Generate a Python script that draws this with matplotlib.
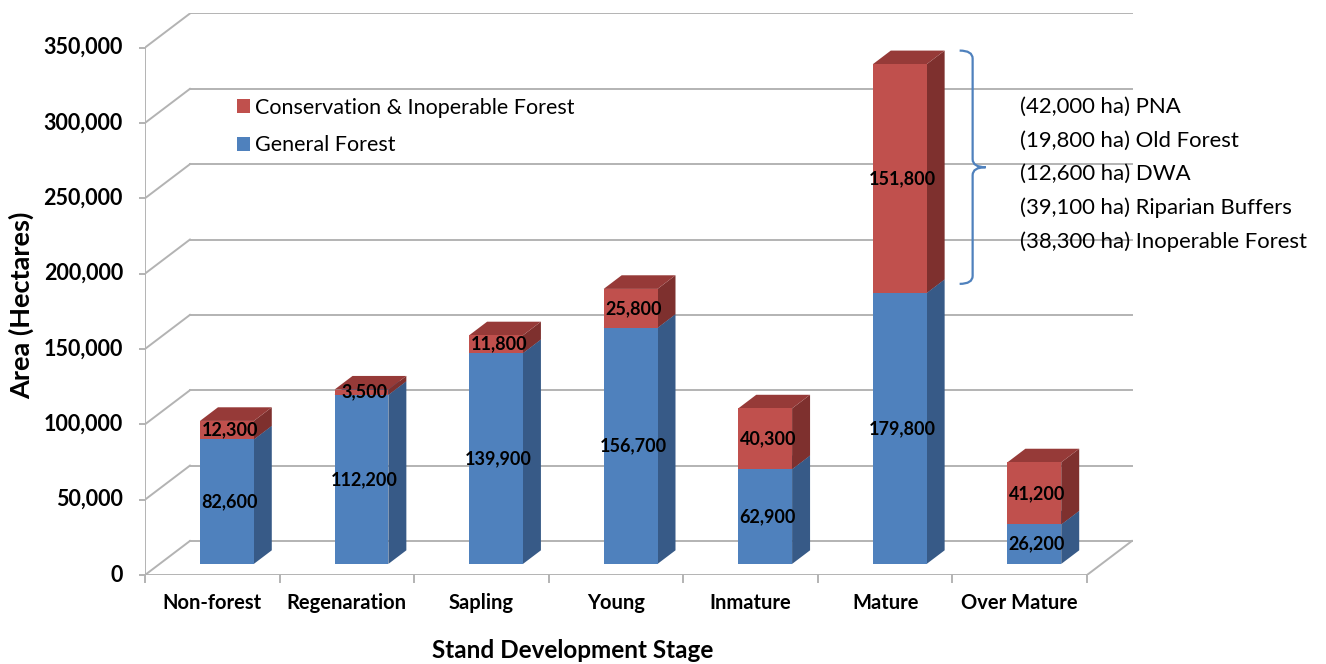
import matplotlib.pyplot as plt
from matplotlib.patches import Polygon, Patch
from matplotlib.path import Path
import matplotlib.patches as mpatches

plt.rcParams['font.family'] = ['Lato', 'DejaVu Sans']

# ─── Data (thousands of hectares) ───────────────────────────────────────────
stages = ["Non-forest", "Regenaration", "Sapling", "Young", "Inmature", "Mature", "Over Mature"]
general = [82.6, 112.2, 139.9, 156.7, 62.9, 179.8, 26.2]
conservation = [12.3, 3.5, 11.8, 25.8, 40.3, 151.8, 41.2]

breakdown = [
    "(42,000 ha) PNA",
    "(19,800 ha) Old Forest",
    "(12,600 ha) DWA",
    "(39,100 ha) Riparian Buffers",
    "(38,300 ha) Inoperable Forest",
]

yticks = list(range(0, 351, 50))

# ─── Style ──────────────────────────────────────────────────────────────────
BLUE = ("#4F81BD", "#375A87", "#3F6797")    # front, side, top
RED = ("#C0504D", "#7E302E", "#963A38")
GRID = "#B3B3B3"
BRACE = "#4F81BD"

W, H = 1326, 664
CAT_PX = 134.57          # pixels per category
PX_K = 1.507             # pixels per thousand ha
DX, DY = 0.334, 22.6     # depth of the floor in data units
F0, F1 = 0.325, 0.725    # front / back depth of the bars
BAR_W = 0.40

fig = plt.figure(figsize=(W / 100, H / 100), dpi=100, facecolor="white")
ax = fig.add_axes([145 / W, 89 / H, 988 / W, 562 / H])
ax.set_xlim(-0.5, -0.5 + 988 / CAT_PX)
ax.set_ylim(0, 562 / PX_K)
ax.axis("off")

n = len(stages)
x0, x1 = -0.5, n - 0.5

# walls and gridlines
for v in yticks:
    ax.plot([x0, x0 + DX], [v, v + DY], color=GRID, lw=1.4, zorder=1)
    ax.plot([x0 + DX, x1 + DX], [v + DY, v + DY], color=GRID, lw=1.4, zorder=1)
    ax.plot([x0 - 5 / CAT_PX, x0], [v, v], color=GRID, lw=1.4, zorder=1, clip_on=False)
    ax.text(x0 - 22 / CAT_PX, v, f"{v * 1000:,}", ha="right", va="center",
            fontsize=15.5, fontweight="bold", color="black")
ax.plot([x0, x0], [0, yticks[-1]], color=GRID, lw=1.4, zorder=1)
ax.plot([x0, x1], [0, 0], color=GRID, lw=1.4, zorder=1)
ax.plot([x1, x1 + DX], [0, DY], color=GRID, lw=1.4, zorder=1)
for k in range(n + 1):
    ax.plot([k - 0.5, k - 0.5], [0, -7 / PX_K], color=GRID, lw=1.4, clip_on=False)

for i, name in enumerate(stages):
    ax.text(i, -28 / PX_K, name, ha="center", va="center",
            fontsize=14.5, fontweight="bold")


def box(i, bottom, top, colors, z):
    front, side, lid = colors
    c = i + F0 * DX
    l, r = c - BAR_W / 2, c + BAR_W / 2
    b, t = bottom + F0 * DY, top + F0 * DY
    ddx, ddy = (F1 - F0) * DX, (F1 - F0) * DY
    ax.add_patch(Polygon([(r, b), (r + ddx, b + ddy), (r + ddx, t + ddy), (r, t)],
                         closed=True, facecolor=side, edgecolor="none", zorder=z))
    ax.add_patch(Polygon([(l, t), (r, t), (r + ddx, t + ddy), (l + ddx, t + ddy)],
                         closed=True, facecolor=lid, edgecolor="none", zorder=z))
    ax.add_patch(Polygon([(l, b), (r, b), (r, t), (l, t)],
                         closed=True, facecolor=front, edgecolor="none", zorder=z + 0.1))
    ax.text(c + 0.02, (b + t) / 2, f"{round((top - bottom) * 1000):,}", ha="center", va="center",
            fontsize=13, fontweight="bold", color="black", zorder=z + 0.5)


for i in range(n):
    box(i, 0, general[i], BLUE, 3)
    box(i, general[i], general[i] + conservation[i], RED, 4)

# brace next to the Mature bar
m = stages.index("Mature")
top = general[m] + conservation[m] + F1 * DY
bot = general[m] + F1 * DY - 3
mid = (top + bot) / 2
bx = m + F0 * DX + BAR_W / 2 + (F1 - F0) * DX + 15 / CAT_PX
bw = 13 / CAT_PX
ry = 8 / PX_K
verts = [
    (bx, top), (bx + bw, top), (bx + bw, top - ry),
    (bx + bw, mid + ry),
    (bx + bw, mid), (bx + 2 * bw, mid), (bx + 2 * bw, mid),
    (bx + bw, mid), (bx + bw, mid - ry),
    (bx + bw, bot + ry),
    (bx + bw, bot), (bx, bot),
]
codes = [Path.MOVETO, Path.CURVE3, Path.CURVE3,
         Path.LINETO,
         Path.CURVE3, Path.CURVE3, Path.MOVETO,
         Path.CURVE3, Path.CURVE3,
         Path.LINETO,
         Path.CURVE3, Path.CURVE3]
ax.add_patch(mpatches.PathPatch(Path(verts, codes), facecolor="none", edgecolor=BRACE,
                                lw=1.6, clip_on=False, zorder=5))

for k, txt in enumerate(breakdown):
    fig.text(1020 / W, 1 - (107 + k * 33.6) / H, txt, ha="left", va="center", fontsize=15.9)

handles = [Patch(facecolor=RED[0], edgecolor="none", label="Conservation & Inoperable Forest"),
           Patch(facecolor=BLUE[0], edgecolor="none", label="General Forest")]
fig.legend(handles=handles, loc="upper left", bbox_to_anchor=(228 / W, 1 - 89 / H),
           frameon=False, fontsize=15.5, handlelength=0.6, handleheight=0.6,
           handletextpad=0.25, labelspacing=0.82, borderaxespad=0)

fig.text(573 / W, 1 - 650 / H, "Stand Development Stage", ha="center", va="center",
         fontsize=17.5, fontweight="bold")
fig.text(21 / W, 1 - 305 / H, "Area (Hectares)", ha="center", va="center",
         rotation=90, fontsize=19.5, fontweight="bold")

fig.savefig("out.png", dpi=100, facecolor="white")
